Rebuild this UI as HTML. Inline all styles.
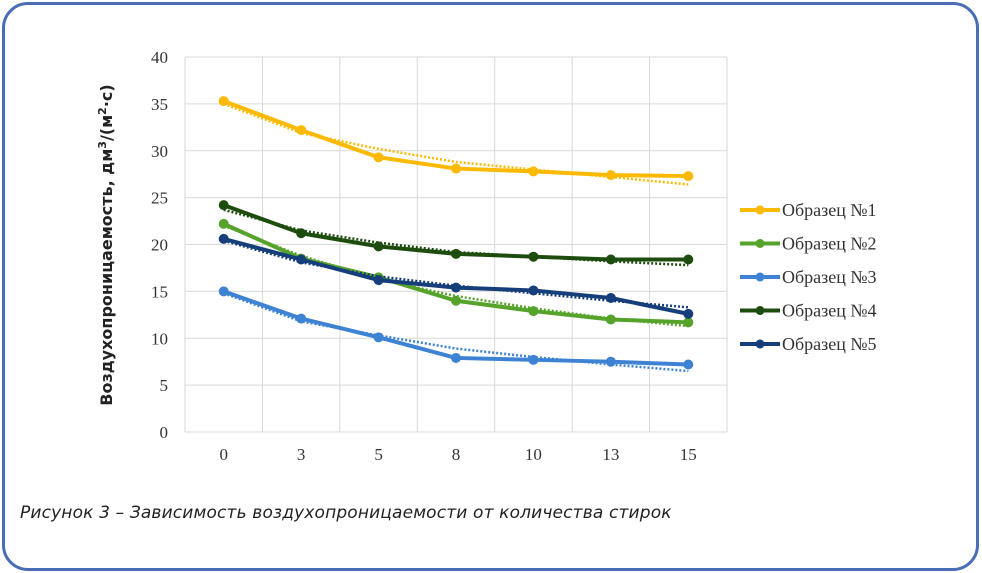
<!DOCTYPE html>
<html><head><meta charset="utf-8"><style>
body{margin:0;background:#fff;width:982px;height:573px;overflow:hidden}
#frame{position:absolute;left:2px;top:2px;width:971px;height:563px;border:3px solid #4a6db5;border-radius:26px}
#cap{position:absolute;left:20px;top:503px;font:italic 17px "DejaVu Sans",sans-serif;color:#222;letter-spacing:0.15px}
</style></head><body>
<div id="frame"></div>
<svg id="chart" width="982" height="573" style="position:absolute;left:0;top:0"></svg>
<div id="cap">Рисунок 3 – Зависимость воздухопроницаемости от количества стирок</div>
<script>
const categories=["0","3","5","8","10","13","15"];
const yTicks=[0,5,10,15,20,25,30,35,40];
const seriesNames=["Образец №1","Образец №2","Образец №3","Образец №4","Образец №5"];
const s1=[35.3,32.2,29.3,28.1,27.8,27.4,27.3];
const s2=[22.2,18.5,16.5,14.0,12.9,12.0,11.7];
const s3=[15.0,12.1,10.1,7.9,7.7,7.5,7.2];
const s4=[24.2,21.2,19.8,19.0,18.7,18.4,18.4];
const s5=[20.6,18.4,16.2,15.4,15.1,14.3,12.6];
const t1=[35.0,31.9,30.2,28.8,28.0,27.2,26.4];
const t2=[22.0,18.8,16.3,14.5,13.2,12.1,11.3];
const t3=[14.8,11.8,10.3,8.9,8.0,7.2,6.5];
const t4=[23.7,21.5,20.2,19.2,18.7,18.2,17.8];
const t5=[20.4,18.1,16.6,15.6,14.8,14.0,13.3];
const colors=["#fbb900","#56a32c","#3d82d3","#1d4d0e","#153e7b"];
const series=[s1,s2,s3,s4,s5], trends=[t1,t2,t3,t4,t5];
const NS="http://www.w3.org/2000/svg", svg=document.getElementById('chart');
const L=185,R=727,T=57,B=432;
const bw=(R-L)/categories.length;
const x=i=>L+bw*(i+0.5), y=v=>B-(v/40)*(B-T);
function mk(tag,attrs,parent){const e=document.createElementNS(NS,tag);for(const k in attrs)e.setAttribute(k,attrs[k]);(parent||svg).appendChild(e);return e;}
for(const v of yTicks){
 const g=mk('line',{x1:L,x2:R,y1:y(v),y2:y(v),stroke:'#d9d9d9','stroke-width':1});
 
 
 const t=mk('text',{x:168,y:y(v)+6,'text-anchor':'end','font-family':'Liberation Serif, serif','font-size':17,fill:'#333'});
 t.textContent=v;
 
 
}
for(let i=0;i<=categories.length;i++){
 const g=mk('line',{x1:L+bw*i,x2:L+bw*i,y1:T,y2:B,stroke:'#d9d9d9','stroke-width':1});
 
 
}
categories.forEach((c,i)=>{
 const t=mk('text',{x:x(i),y:460,'text-anchor':'middle','font-family':'Liberation Serif, serif','font-size':17,fill:'#333'});
 t.textContent=c;
 
 
});
const yt=mk('text',{transform:'translate(112,245) rotate(-90)','text-anchor':'middle','font-family':'DejaVu Sans, sans-serif','font-size':16,'font-weight':'bold',fill:'#222'});
yt.innerHTML='Воздухопроницаемость, дм<tspan dy="-6" font-size="11">3</tspan><tspan dy="6">/(м</tspan><tspan dy="-6" font-size="11">2</tspan><tspan dy="6">·с)</tspan>';


series.forEach((s,k)=>{
 const tp=mk('polyline',{points:trends[k].map((v,i)=>x(i)+','+y(v)).join(' '),fill:'none',stroke:colors[k],'stroke-width':2.5,'stroke-dasharray':'2 2'});
 
 
 const p=mk('polyline',{points:s.map((v,i)=>x(i)+','+y(v)).join(' '),fill:'none',stroke:colors[k],'stroke-width':4,'stroke-linejoin':'round'});
 
 
 s.forEach((v,i)=>{
  const c=mk('circle',{cx:x(i),cy:y(v),r:5,fill:colors[k]});
  
  
 });
 const ly=210+k*33.5;
 const ll=mk('line',{x1:740,x2:780,y1:ly,y2:ly,stroke:colors[k],'stroke-width':4});
 
 
 const lc=mk('circle',{cx:760,cy:ly,r:4.5,fill:colors[k]});
 
 
 const lt=mk('text',{x:782,y:ly+6,'font-family':'Liberation Serif, serif','font-size':18,fill:'#333'});
 lt.textContent=seriesNames[k];
 
 
});
</script>
</body></html>
